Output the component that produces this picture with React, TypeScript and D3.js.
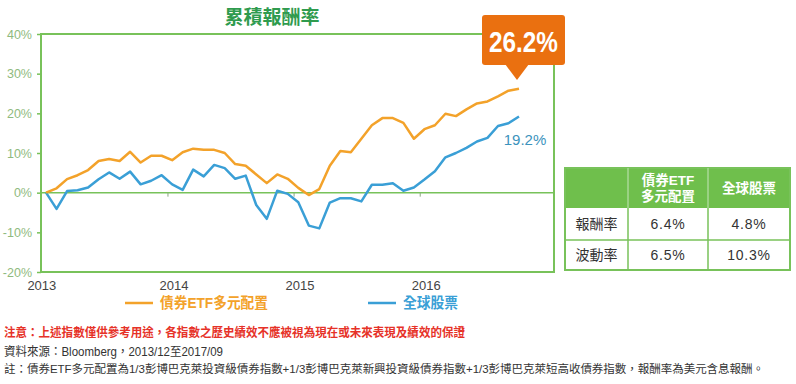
import React, { useEffect, useRef } from "react";
import * as d3 from "d3";

const yearLabels = ["2013", "2014", "2015", "2016"];
const yTicks = [-20, -10, 0, 10, 20, 30, 40];

// monthly cumulative return, %
const bondSeries = [
  0, 1.1, 3.4, 4.4, 5.7, 8.0, 8.5, 8.0, 10.3, 7.6, 9.3, 9.3, 8.2, 10.2, 11.1,
  10.8, 10.8, 10.0, 7.2, 6.8, 4.6, 2.4, 4.6, 3.5, 1.2, -0.6, 0.9, 6.8, 10.5,
  10.2, 13.6, 17.0, 18.8, 18.8, 17.6, 13.6, 16.0, 17.0, 19.9, 19.3, 21.0, 22.5,
  23.0, 24.3, 25.7, 26.2,
];
const equitySeries = [
  0, -4.1, 0.4, 0.6, 1.3, 3.4, 5.1, 3.5, 5.3, 2.1, 3.0, 4.4, 2.1, 0.7, 5.8, 4.1,
  7.0, 6.2, 3.5, 4.3, -3.1, -6.6, 0.5, -0.3, -2.4, -8.3, -9.0, -2.5, -1.4, -1.4,
  -2.2, 2.0, 2.0, 2.4, 0.5, 1.3, 3.3, 5.4, 8.9, 10.0, 11.3, 12.9, 13.8, 16.8,
  17.5, 19.2,
];
const seriesNames = ["債券ETF多元配置", "全球股票"];

const tableHead = [["債券ETF", "多元配置"], ["全球股票"]];
const tableRows = ["報酬率", "波動率"];
const bondStats = ["6.4%", "6.5%"];
const equityStats = ["4.8%", "10.3%"];

const title = "累積報酬率";
const noteWarn =
  "注意：上述指數僅供參考用途，各指數之歷史績效不應被視為現在或未來表現及績效的保證";
const noteSource = "資料來源：Bloomberg，2013/12至2017/09";
const noteDef =
  "註：債券ETF多元配置為1/3彭博巴克萊投資級債券指數+1/3彭博巴克萊新興投資級債券指數+1/3彭博巴克萊短高收債券指數，報酬率為美元含息報酬。";

const App = () => {
  const chartRef = useRef(null);
  const width = 796;
  const height = 384;
  const left = 41;
  const right = 554;
  const top = 34;
  const bottom = 272;

  useEffect(() => {
    if (!chartRef.current) return;
    const font = "'Liberation Sans', Arial, 'Noto Sans CJK TC', sans-serif";
    const green = "#78c25a";
    const orange = "#f3a22a";
    const blue = "#3a9fd6";

    const svg = d3.select(chartRef.current);
    svg.selectAll("*").remove();
    svg.attr("font-family", font);

    const x = d3.scaleLinear([-0.48, 48.33], [left, right]);
    const y = d3.scaleLinear([-20, 40], [bottom, top]);

    // title
    svg
      .append("text")
      .attr("x", 272)
      .attr("y", 24)
      .attr("text-anchor", "middle")
      .attr("font-size", 19)
      .attr("font-weight", "bold")
      .attr("fill", "#2f9b4e")
      .text(title);

    // frame
    svg
      .append("rect")
      .attr("x", left)
      .attr("y", top)
      .attr("width", right - left)
      .attr("height", bottom - top)
      .attr("fill", "none")
      .attr("stroke", green)
      .attr("stroke-width", 2);

    // y axis
    const yAxis = svg
      .append("g")
      .attr("transform", `translate(${left},0)`)
      .call(
        d3
          .axisLeft(y)
          .tickValues(yTicks)
          .tickFormat((d) => `${d}%`)
          .tickSize(4)
          .tickPadding(5)
      );
    yAxis.select(".domain").remove();
    yAxis.selectAll(".tick line").attr("stroke", green).attr("stroke-width", 1.5);
    yAxis
      .selectAll(".tick text")
      .attr("fill", "#8fba7e")
      .attr("font-size", 12.5)
      .attr("font-family", font);

    // zero line
    svg
      .append("line")
      .attr("x1", left)
      .attr("x2", right)
      .attr("y1", y(0))
      .attr("y2", y(0))
      .attr("stroke", green)
      .attr("stroke-width", 1.5);

    // year ticks and labels
    yearLabels.forEach((lab, i) => {
      const xp = x(i * 12 - 0.4);
      if (i > 0) {
        svg
          .append("line")
          .attr("x1", xp)
          .attr("x2", xp)
          .attr("y1", y(0))
          .attr("y2", y(0) + 4)
          .attr("stroke", "#8aa880")
          .attr("stroke-width", 1);
      }
      svg
        .append("text")
        .attr("x", i === 0 ? xp : xp + 6)
        .attr("y", 290)
        .attr("text-anchor", "middle")
        .attr("font-size", 13)
        .attr("fill", "#444")
        .text(lab);
    });

    const line = d3
      .line<number>()
      .x((d, i) => x(i))
      .y((d) => y(d));

    svg
      .append("path")
      .attr("fill", "none")
      .attr("stroke", blue)
      .attr("stroke-width", 2.5)
      .attr("stroke-linejoin", "round")
      .attr("d", line(equitySeries));

    svg
      .append("path")
      .attr("fill", "none")
      .attr("stroke", orange)
      .attr("stroke-width", 2.5)
      .attr("stroke-linejoin", "round")
      .attr("d", line(bondSeries));

    // end label for equity
    const lastI = equitySeries.length - 1;
    svg
      .append("text")
      .attr("x", x(lastI) + 6)
      .attr("y", 145)
      .attr("text-anchor", "middle")
      .attr("font-size", 15)
      .attr("fill", "#3b93bd")
      .text(`${equitySeries[lastI]}%`);

    // callout for bond
    const cx = x(lastI) - 2;
    const callout = svg.append("g");
    callout
      .append("rect")
      .attr("x", cx - 35)
      .attr("y", 15)
      .attr("width", 83)
      .attr("height", 50)
      .attr("rx", 3)
      .attr("fill", "#ea7010");
    callout
      .append("path")
      .attr("d", `M${cx - 12},64 L${cx + 12},64 L${cx},80 Z`)
      .attr("fill", "#ea7010");
    callout
      .append("text")
      .attr("x", cx + 6.5)
      .attr("y", 52)
      .attr("text-anchor", "middle")
      .attr("font-size", 29)
      .attr("font-weight", "bold")
      .attr("fill", "#fff")
      .attr("textLength", 69)
      .attr("lengthAdjust", "spacingAndGlyphs")
      .text(`${bondSeries[lastI]}%`);

    // legend
    const legendY = 303;
    [
      { c: orange, x0: 125, tw: 108 },
      { c: blue, x0: 368, tw: 55 },
    ].forEach((l, i) => {
      svg
        .append("line")
        .attr("x1", l.x0)
        .attr("x2", l.x0 + 28)
        .attr("y1", legendY)
        .attr("y2", legendY)
        .attr("stroke", l.c)
        .attr("stroke-width", 2.5);
      svg
        .append("text")
        .attr("x", l.x0 + 35)
        .attr("y", legendY + 5)
        .attr("font-size", 14.5)
        .attr("font-weight", "bold")
        .attr("fill", l.c)
        .attr("textLength", l.tw)
        .attr("lengthAdjust", "spacingAndGlyphs")
        .text(seriesNames[i]);
    });

    // table
    const colX = [565, 628, 708, 790];
    const rowY = [168, 208, 240, 270];
    const tbl = svg.append("g");
    tbl
      .append("rect")
      .attr("x", colX[0])
      .attr("y", rowY[0])
      .attr("width", colX[3] - colX[0])
      .attr("height", rowY[1] - rowY[0])
      .attr("fill", "#6fbf4c");
    tbl
      .append("rect")
      .attr("x", colX[0])
      .attr("y", rowY[0])
      .attr("width", colX[3] - colX[0])
      .attr("height", rowY[3] - rowY[0])
      .attr("fill", "none")
      .attr("stroke", green)
      .attr("stroke-width", 2);
    [1, 2].forEach((c) => {
      tbl
        .append("line")
        .attr("x1", colX[c])
        .attr("x2", colX[c])
        .attr("y1", rowY[0])
        .attr("y2", rowY[1])
        .attr("stroke", "#a8d896")
        .attr("stroke-width", 1.5);
      tbl
        .append("line")
        .attr("x1", colX[c])
        .attr("x2", colX[c])
        .attr("y1", rowY[1])
        .attr("y2", rowY[3])
        .attr("stroke", green)
        .attr("stroke-width", 1.5);
    });
    tbl
      .append("line")
      .attr("x1", colX[0])
      .attr("x2", colX[3])
      .attr("y1", rowY[2])
      .attr("y2", rowY[2])
      .attr("stroke", green)
      .attr("stroke-width", 1.5);

    tableHead.forEach((lines, c) => {
      const mx = (colX[c + 1] + colX[c + 2]) / 2;
      const my = (rowY[0] + rowY[1]) / 2;
      lines.forEach((t, k) => {
        tbl
          .append("text")
          .attr("x", mx)
          .attr("y", my + 5 + (k - (lines.length - 1) / 2) * 16)
          .attr("text-anchor", "middle")
          .attr("font-size", 13.5)
          .attr("font-weight", "bold")
          .attr("fill", "#fff")
          .text(t);
      });
    });

    tableRows.forEach((r, ri) => {
      const my = (rowY[ri + 1] + rowY[ri + 2]) / 2 + 5;
      [r, bondStats[ri], equityStats[ri]].forEach((t, c) => {
        tbl
          .append("text")
          .attr("x", (colX[c] + colX[c + 1]) / 2)
          .attr("y", my)
          .attr("text-anchor", "middle")
          .attr("font-size", 14)
          .attr("fill", "#333")
          .attr("letter-spacing", c === 0 ? 0 : 0.8)
          .text(t);
      });
    });

    // notes
    [
      { t: noteWarn, y: 337, w: 461, c: "#e63228", b: "bold", fs: 12 },
      { t: noteSource, y: 356, w: 219, c: "#333", b: "normal", fs: 12 },
      { t: noteDef, y: 373, w: 760, c: "#333", b: "normal", fs: 11.4 },
    ].forEach((n) => {
      svg
        .append("text")
        .attr("x", 4)
        .attr("y", n.y)
        .attr("font-size", n.fs)
        .attr("font-weight", n.b)
        .attr("fill", n.c)
        .attr("textLength", n.w)
        .attr("lengthAdjust", "spacingAndGlyphs")
        .text(n.t);
    });
  }, []);

  return (
    <svg
      ref={chartRef}
      width={width}
      height={height}
      viewBox={`0 0 ${width} ${height}`}
      style={{ position: "absolute", left: 0, top: 0, background: "#fff" }}
    />
  );
};

export default App;
